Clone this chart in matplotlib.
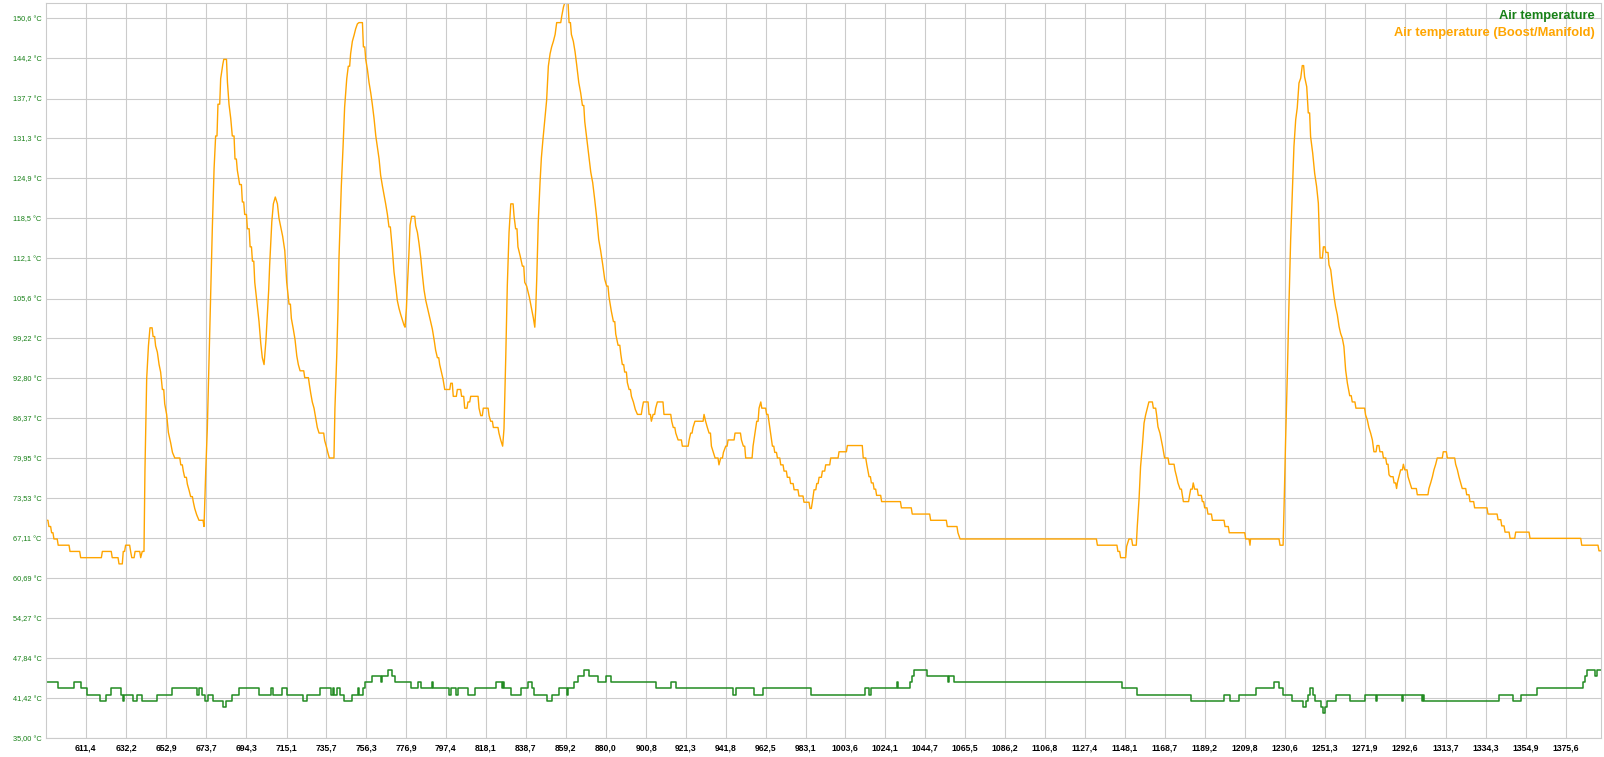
import matplotlib.pyplot as plt

# Air temperature (Boost/Manifold), x = time, y = degC
boost_x = [590.4, 592.4, 593.8, 595.0, 597.2, 603.3, 608.8, 620.0, 625.1, 628.6, 630.8, 632.0, 634.6, 635.2,
           636.9, 639.8, 640.6, 642.0, 642.9, 643.8, 644.6, 646.2, 647.5, 648.4, 649.3, 650.1, 651.0, 652.2,
           653.2, 654.1, 655.3, 656.2, 657.4, 660.5, 661.8, 662.5, 663.9, 664.8, 665.6, 667.0, 667.7, 668.7,
           669.9, 672.5, 673.4, 674.2, 675.1, 676.0, 676.8, 677.7, 678.5, 679.7, 681.1, 682.2, 682.7, 684.6,
           685.4, 686.3, 687.1, 688.5, 689.7, 690.9, 692.3, 693.5, 694.9, 696.3, 697.5, 698.7, 699.7, 700.9,
           701.8, 702.6, 703.5, 704.5, 705.2, 705.9, 706.4, 707.5, 708.3, 709.3, 710.4, 711.2, 712.1, 713.1,
           714.2, 715.2, 716.4, 717.6, 718.6, 719.5, 720.4, 721.2, 722.1, 724.5, 726.9, 727.6, 728.4, 729.3,
           730.2, 731.0, 731.9, 734.8, 735.7, 736.5, 737.2, 740.1, 741.0, 741.7, 742.2, 743.4, 744.3, 745.1,
           746.2, 747.0, 748.2, 749.1, 750.0, 750.8, 751.7, 752.5, 754.8, 756.0, 756.9, 757.7, 758.6, 759.4,
           760.3, 761.2, 762.0, 762.9, 763.7, 764.6, 765.5, 766.3, 767.2, 768.0, 769.2, 769.8, 770.6, 771.5,
           772.3, 773.2, 774.1, 774.9, 775.8, 776.3, 777.0, 777.5, 778.2, 778.9, 779.7, 781.8, 782.7, 783.5,
           784.4, 785.2, 786.1, 787.0, 787.8, 788.7, 789.5, 790.4, 791.3, 792.1, 793.0, 794.2, 795.1, 795.9,
           796.8, 799.9, 801.2, 803.3, 805.5, 807.1, 808.8, 810.2, 814.5, 815.4, 816.7, 819.7, 820.5, 821.9,
           824.8, 825.7, 826.7, 827.4, 828.3, 829.1, 830.0, 830.9, 832.6, 833.4, 834.6, 835.7, 836.9, 838.1,
           839.1, 839.8, 840.5, 841.5, 842.6, 843.3, 843.8, 844.3, 845.1, 846.0, 846.7, 847.5, 848.4, 849.4,
           850.3, 851.2, 852.0, 852.9, 853.8, 854.6, 857.2, 858.1, 858.7, 861.0, 862.2, 863.2, 864.1, 864.9,
           866.0, 867.0, 867.9, 869.1, 870.1, 871.1, 872.2, 873.2, 874.2, 875.3, 876.3, 877.3, 878.4, 879.4,
           880.4, 881.6, 882.8, 883.9, 885.1, 886.3, 887.7, 888.5, 889.7, 891.1, 892.0, 893.2, 894.2, 895.2,
           896.3, 898.8, 899.4, 902.3, 903.5, 904.4, 905.7, 906.6, 910.0, 914.0, 914.8, 916.1, 917.3, 919.5,
           923.0, 923.8, 925.0, 926.0, 930.7, 931.5, 932.4, 933.3, 934.5, 935.5, 936.4, 938.4, 939.3, 940.7,
           941.9, 943.1, 946.7, 950.0, 951.0, 952.2, 956.0, 957.0, 957.9, 959.1, 960.0, 960.5, 963.0, 964.2,
           965.1, 966.0, 967.2, 968.6, 970.3, 972.0, 973.7, 975.4, 977.2, 979.7, 982.3, 985.4, 986.6, 987.5,
           988.9, 990.1, 991.8, 993.5, 996.1, 1000.4, 1004.7, 1012.9, 1014.7, 1015.9, 1017.1, 1018.5, 1019.8,
           1022.4, 1032.6, 1038.2, 1047.7, 1056.3, 1061.8, 1062.9, 1133.8, 1144.4, 1145.8, 1148.9, 1150.1,
           1152.0, 1154.4, 1155.3, 1156.1, 1157.0, 1157.9, 1158.7, 1159.6, 1160.4, 1162.7, 1164.4, 1165.1,
           1166.1, 1166.8, 1167.5, 1168.5, 1170.8, 1173.9, 1174.7, 1175.4, 1176.5, 1177.7, 1178.2, 1181.4,
           1182.0, 1183.3, 1184.0, 1185.9, 1188.0, 1189.2, 1190.9, 1193.2, 1199.7, 1201.9, 1210.4, 1212.6,
           1212.9, 1228.1, 1230.2, 1231.0, 1231.9, 1232.7, 1233.6, 1234.5, 1235.3, 1236.2, 1237.0, 1237.9,
           1238.8, 1239.6, 1240.8, 1241.9, 1242.7, 1243.9, 1245.0, 1246.0, 1247.0, 1247.9, 1248.4, 1248.8,
           1250.5, 1251.8, 1253.4, 1254.3, 1255.1, 1256.0, 1256.8, 1257.7, 1258.6, 1259.4, 1260.3, 1261.1,
           1262.0, 1262.9, 1264.1, 1265.4, 1267.3, 1272.3, 1273.2, 1274.0, 1274.9, 1275.8, 1276.6, 1278.2,
           1279.7, 1281.5, 1283.2, 1284.4, 1285.2, 1287.0, 1288.3, 1288.7, 1289.5, 1290.4, 1291.8, 1292.5,
           1294.2, 1295.2, 1296.1, 1299.0, 1305.0, 1305.9, 1306.8, 1307.6, 1308.5, 1309.3, 1312.4, 1314.5,
           1318.8, 1319.7, 1320.5, 1321.4, 1322.2, 1324.5, 1326.2, 1328.6, 1335.5, 1340.7, 1342.6, 1344.3,
           1346.9, 1349.8, 1357.2, 1383.9, 1392.8, 1395.0]
boost_y = [70.0, 69.0, 68.0, 67.0, 66.0, 65.0, 64.0, 65.0, 64.0, 63.0, 65.0, 66.0, 65.0, 64.0,
           65.0, 64.0, 65.0, 78.0, 92.8, 98.0, 100.9, 99.5, 98.0, 97.0, 95.0, 93.8, 91.0, 88.7,
           87.0, 84.1, 82.4, 80.9, 80.0, 78.9, 77.9, 76.9, 75.8, 74.8, 73.8, 72.9, 71.9, 70.9,
           70.0, 69.0, 78.0, 84.7, 96.0, 107.6, 117.0, 126.5, 131.7, 136.8, 140.9, 143.2, 144.0, 140.3,
           136.8, 134.5, 131.7, 128.0, 126.2, 123.9, 121.1, 119.1, 116.8, 113.9, 111.6, 108.2, 105.3, 101.9,
           98.4, 96.1, 95.0, 99.0, 103.0, 107.0, 111.0, 117.9, 120.8, 121.9, 120.8, 118.5, 117.1, 115.6,
           113.3, 108.2, 104.7, 102.4, 100.7, 99.0, 96.4, 95.0, 94.0, 92.9, 91.8, 90.4, 89.0, 88.0,
           86.4, 84.9, 84.0, 82.8, 81.8, 80.8, 80.0, 88.0, 96.1, 104.0, 112.2, 123.7, 130.0, 136.3,
           140.9, 142.9, 144.9, 146.9, 147.9, 148.9, 149.7, 149.9, 146.0, 144.0, 142.3, 140.3, 138.6, 136.8,
           134.5, 131.7, 130.0, 128.0, 125.4, 123.7, 122.2, 120.8, 119.1, 117.1, 115.3, 113.3, 109.9, 107.6,
           105.3, 104.0, 103.0, 102.2, 101.3, 101.0, 104.0, 107.6, 112.0, 117.4, 118.8, 117.3, 116.2, 114.5,
           112.2, 109.6, 107.0, 105.3, 104.2, 103.0, 101.9, 100.7, 99.0, 97.3, 96.1, 95.0, 93.8, 92.7,
           91.0, 92.0, 89.9, 91.0, 89.9, 88.0, 89.0, 89.9, 88.0, 86.8, 88.0, 86.8, 85.9, 84.9,
           84.0, 82.9, 81.9, 84.7, 96.1, 107.6, 116.2, 120.8, 118.8, 116.8, 113.9, 112.5, 110.8, 108.2,
           107.6, 106.7, 105.8, 104.2, 102.4, 101.0, 104.0, 108.7, 117.9, 124.2, 128.2, 131.1, 134.0, 137.4,
           142.9, 144.9, 146.0, 146.9, 148.0, 149.9, 150.9, 152.4, 153.0, 149.9, 148.0, 146.9, 145.2, 143.2,
           140.3, 138.6, 136.6, 134.0, 131.4, 128.8, 125.9, 124.2, 121.6, 118.5, 115.1, 113.3, 111.0, 108.7,
           107.6, 105.9, 103.6, 101.9, 99.9, 98.1, 96.7, 95.0, 93.8, 92.1, 91.0, 89.9, 89.0, 87.8,
           87.0, 88.0, 89.0, 87.0, 85.9, 87.0, 88.0, 89.0, 87.0, 85.9, 84.9, 84.0, 82.9, 81.9,
           82.9, 84.0, 84.9, 85.9, 87.0, 85.9, 84.9, 84.0, 81.9, 80.9, 80.0, 78.9, 80.0, 80.9,
           81.9, 82.9, 84.0, 82.9, 81.9, 80.0, 81.9, 84.0, 85.9, 88.0, 89.0, 88.0, 87.0, 85.9,
           84.0, 81.9, 80.9, 80.0, 78.9, 77.9, 76.9, 75.9, 74.9, 73.9, 72.9, 71.9, 72.9, 74.9,
           75.9, 76.9, 77.9, 78.9, 80.0, 81.0, 82.0, 80.0, 79.0, 77.0, 76.0, 75.0, 74.0,
           73.0, 72.0, 71.0, 70.0, 69.0, 68.0, 67.0, 66.0, 65.0, 64.0, 65.8, 67.0,
           66.0, 69.0, 73.3, 78.6, 81.8, 85.6, 86.9, 88.0, 89.0, 88.0, 86.9, 85.0,
           84.0, 82.9, 81.8, 80.0, 79.0, 78.0, 77.0, 76.0, 75.0, 74.0, 73.0, 74.0,
           75.0, 76.0, 75.0, 74.0, 73.0, 72.0, 71.0, 70.0, 69.0, 68.0, 67.0, 66.0,
           67.0, 66.0, 72.2, 82.9, 93.6, 104.3, 115.0, 123.0, 130.0, 134.3, 136.2, 140.2,
           141.0, 143.0, 141.2, 139.6, 135.4, 131.6, 128.9, 125.7, 123.6, 120.9, 116.0, 112.1,
           113.9, 113.0, 111.0, 110.2, 108.1, 105.9, 104.3, 103.0, 101.1, 100.0, 99.2, 97.9,
           94.1, 92.0, 90.0, 89.0, 88.0, 86.9, 86.1, 84.9, 84.0, 82.9, 81.0, 82.0,
           81.0, 80.0, 79.0, 77.3, 77.0, 76.0, 75.1, 76.0, 77.0, 78.1, 79.0, 78.1,
           77.0, 76.0, 75.1, 74.1, 75.1, 76.0, 77.0, 78.1, 79.0, 80.0, 81.0, 80.0,
           79.0, 78.1, 77.0, 76.0, 75.1, 74.1, 73.0, 72.0, 71.0, 70.1, 69.1, 68.1,
           67.1, 68.1, 67.1, 66.0, 65.1, 65.1]

# Air temperature (intake), stepwise levels
air_x = [590.4, 597.3, 605.4, 608.8, 611.9, 618.8, 621.9, 624.5, 629.5, 630.5, 631.4, 636.0, 637.7, 640.3,
         648.4, 655.8, 669.0, 669.9, 671.5, 673.0, 674.7, 677.3, 682.1, 683.7, 687.1, 690.7, 700.7, 706.9,
         708.3, 712.9, 715.6, 723.8, 725.5, 732.4, 738.1, 738.9, 739.8, 741.0, 742.7, 745.0, 748.7, 751.8,
         752.5, 754.6, 755.6, 759.1, 763.9, 764.6, 767.7, 769.7, 771.1, 779.4, 783.2, 784.5, 790.0, 790.6,
         799.0, 799.9, 802.4, 803.5, 809.0, 812.4, 823.1, 826.5, 827.1, 827.4, 831.0, 836.2, 839.6, 841.7,
         843.1, 849.4, 852.0, 855.8, 859.8, 860.6, 863.5, 865.8, 868.9, 871.5, 875.8, 879.9, 882.6, 905.7,
         913.4, 916.2, 945.8, 947.2, 956.3, 961.3, 985.9, 1013.8, 1016.0, 1016.9, 1030.1, 1030.7, 1037.0,
         1038.2, 1039.3, 1045.6, 1056.5, 1057.2, 1059.9, 1146.3, 1154.4, 1182.1, 1199.3, 1202.3, 1206.9,
         1215.5, 1225.2, 1227.6, 1229.8, 1234.1, 1239.8, 1241.5, 1242.7, 1243.6, 1245.3, 1246.2, 1249.1,
         1250.1, 1251.3, 1252.2, 1257.0, 1264.4, 1272.0, 1277.7, 1278.0, 1290.9, 1291.8, 1301.2, 1301.8,
         1302.4, 1341.3, 1348.6, 1352.4, 1360.6, 1384.4, 1385.6, 1386.8, 1390.7, 1391.6, 1395.0]
air_y = [44, 43, 44, 43, 42, 41, 42, 43, 42, 41, 42, 41, 42, 41,
         42, 43, 42, 43, 42, 41, 42, 41, 40, 41, 42, 43, 42, 43,
         42, 43, 42, 41, 42, 43, 42, 43, 42, 43, 42, 41, 42, 43,
         42, 43, 44, 45, 44, 45, 46, 45, 44, 43, 44, 43, 44, 43,
         42, 43, 42, 43, 42, 43, 44, 43, 44, 43, 42, 43, 44, 43,
         42, 41, 42, 43, 42, 43, 44, 45, 46, 45, 44, 45, 44, 43,
         44, 43, 42, 43, 42, 43, 42, 43, 42, 43, 44, 43, 44,
         45, 46, 45, 44, 45, 44, 43, 42, 41, 42, 41, 42,
         43, 44, 43, 42, 41, 40, 41, 42, 43, 42, 41, 40,
         39, 40, 41, 42, 41, 42, 41, 42, 41, 42, 41, 42,
         41, 42, 41, 42, 43, 44, 45, 46, 45, 46, 46]

x_ticks = [611.4, 632.2, 652.9, 673.7, 694.3, 715.1, 735.7, 756.3, 776.9, 797.4, 818.1, 838.7, 859.2,
           880.0, 900.8, 921.3, 941.8, 962.5, 983.1, 1003.6, 1024.1, 1044.7, 1065.5, 1086.2, 1106.8,
           1127.4, 1148.1, 1168.7, 1189.2, 1209.8, 1230.6, 1251.3, 1271.9, 1292.6, 1313.7, 1334.3,
           1354.9, 1375.6]
y_ticks = [35.00, 41.42, 47.84, 54.27, 60.69, 67.11, 73.53, 79.95, 86.37, 92.80, 99.22,
           105.6, 112.1, 118.5, 124.9, 131.3, 137.7, 144.2, 150.6]

ORANGE = '#FFA500'
GREEN = '#228B22'
GRID = '#cbcbcb'


def hold_levels(xs, ys, gap=1.2, lead=0.5):
    # a sample holds its value until shortly before the next one,
    # so ramps stay slanted and long plateaus stay flat
    px, py = [], []
    for i in range(len(xs)):
        px.append(xs[i])
        py.append(ys[i])
        if i + 1 < len(xs) and xs[i + 1] - xs[i] > gap:
            px.append(xs[i + 1] - lead)
            py.append(ys[i])
    return px, py


plt.rcParams['font.family'] = ['Liberation Sans', 'DejaVu Sans']

fig = plt.figure(figsize=(16.04, 7.57), dpi=100)
ax = fig.add_axes([45.7 / 1604, 18.7 / 757, 1555 / 1604, 735 / 757])

bx, by = hold_levels(boost_x, boost_y)
ax.plot(bx, by, color=ORANGE, lw=1.0)
ax.plot(air_x, air_y, drawstyle='steps-post', color=GREEN, lw=1.1)

ax.set_xlim(590.75, 1393.7)
ax.set_ylim(35.0, 153.0)

ax.set_xticks(x_ticks)
ax.set_xticklabels([f'{v:.1f}'.replace('.', ',') for v in x_ticks])
ax.set_yticks(y_ticks)
ax.set_yticklabels([(f'{v:.2f}' if v < 100 else f'{v:.1f}').replace('.', ',') + ' °C' for v in y_ticks])

ax.grid(True, color=GRID, lw=0.8)
ax.set_axisbelow(True)
for s in ax.spines.values():
    s.set_color(GRID)
    s.set_linewidth(0.8)

ax.tick_params(axis='x', length=0, pad=4, labelsize=6.2, labelcolor='black')
ax.tick_params(axis='y', length=0, pad=3, labelsize=5.3, labelcolor='#168016')
for lab in ax.get_xticklabels():
    lab.set_fontweight('bold')

fig.text(1595 / 1604, 1 - 16 / 757, 'Air temperature', color='#168016', fontsize=9.3,
         fontweight='bold', ha='right', va='center')
fig.text(1595 / 1604, 1 - 33 / 757, 'Air temperature (Boost/Manifold)', color=ORANGE, fontsize=9.3,
         fontweight='bold', ha='right', va='center')

fig.savefig('out.png', dpi=100)
